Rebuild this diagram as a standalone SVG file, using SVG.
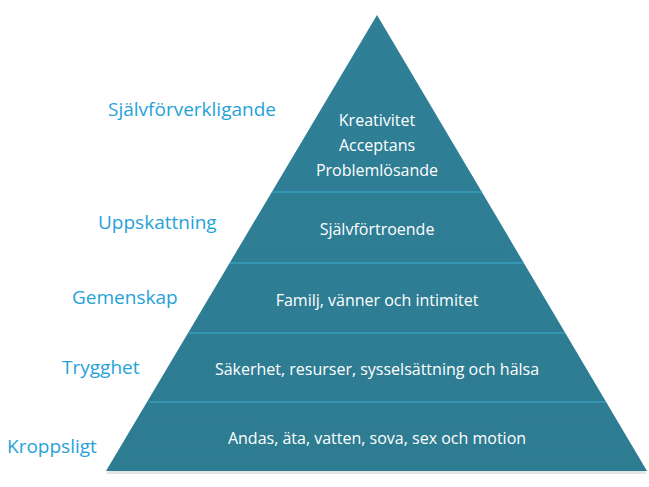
<svg xmlns="http://www.w3.org/2000/svg" width="649" height="487" viewBox="0 0 649 487">
<style>
.t{font-family:"Open Sans","Liberation Sans",sans-serif;font-size:16px;fill:#fff;text-anchor:middle}
.l{font-family:"Open Sans","Liberation Sans",sans-serif;font-size:19px;fill:#27a2d8}
.sep{stroke:#3cb0d2;stroke-width:1.2}
</style>
<defs><linearGradient id="g" x1="0" y1="0" x2="0" y2="1"><stop offset="0" stop-color="#2f7f96"/><stop offset="1" stop-color="#2d7c92"/></linearGradient></defs>
<rect width="649" height="487" fill="#fff"/>
<g id="pyramid">
<polygon points="377,15 647,471 106,471" fill="#d0d6da" transform="translate(0,3)" opacity="0.6"/>
<polygon points="377,15 647,471 106,471" fill="url(#g)"/>
</g>
<g id="connectors">
<line class="sep" x1="272" y1="192" x2="482" y2="192"/>
<line class="sep" x1="230" y1="263" x2="524" y2="263"/>
<line class="sep" x1="189" y1="333" x2="565" y2="333"/>
<line class="sep" x1="149" y1="402" x2="606" y2="402"/>
</g>
<g id="n1"><text class="t" x="377" y="126">Kreativitet</text><text class="t" x="377" y="151">Acceptans</text><text class="t" x="377" y="176">Problemlösande</text><text class="l" x="108" y="116">Självförverkligande</text></g>
<g id="n2"><text class="t" x="377" y="235">Självförtroende</text><text class="l" x="98" y="229">Uppskattning</text></g>
<g id="n3"><text class="t" x="377" y="306">Familj, vänner och intimitet</text><text class="l" x="72" y="304">Gemenskap</text></g>
<g id="n4"><text class="t" x="377" y="375">Säkerhet, resurser, sysselsättning och hälsa</text><text class="l" x="62" y="374">Trygghet</text></g>
<g id="n5"><text class="t" x="377" y="444">Andas, äta, vatten, sova, sex och motion</text><text class="l" x="7" y="453">Kroppsligt</text></g>
</svg>
